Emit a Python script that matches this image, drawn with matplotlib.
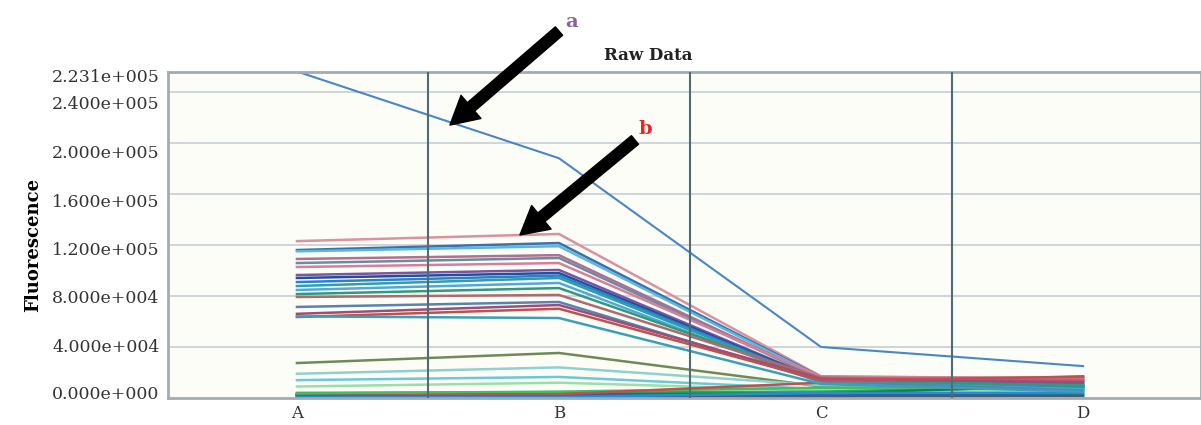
"""
Raw Data : courbes de fluorescence brutes (A, B, C, D)
"""
import matplotlib.pyplot as plt

# étapes
steps = ['A', 'B', 'C', 'D']

# courbe "a" (la plus haute)
curve_a = [256000, 188000, 40000, 25000]

# groupe "b" : valeurs en A, B, C, D
cluster = [
    [123000, 128600, 17000, 15000],
    [116000, 121500, 16500, 14000],
    [115000, 119000, 16000, 13000],
    [109000, 112000, 15500, 16000],
    [105800, 109800, 15000, 12000],
    [102700, 105800, 16800, 15500],
    [96400, 100400, 14000, 11000],
    [94100, 98000, 13500, 9000],
    [90900, 96000, 13000, 8000],
    [87800, 94100, 12500, 10000],
    [84700, 90200, 12000, 7000],
    [81500, 86200, 14500, 9500],
    [79200, 80800, 16000, 13500],
    [71400, 75300, 13000, 6000],
    [66000, 72900, 15000, 12500],
    [63500, 70000, 14000, 16500],
    [64000, 62700, 11000, 5000],
]
cluster_colors = ['#d9929e', '#3a6fb0', '#5ab8d8', '#b0708f', '#6f8aa0',
                  '#d77f9a', '#7a55a0', '#1f4f9e', '#2f7fc8', '#2a9fb0',
                  '#4fa8dc', '#2f9a80', '#b06a6a', '#5a82b0', '#9a4f7a',
                  '#c0504d', '#3aa0b8']

# courbes basses
low = [
    [27400, 35300, 9000, 7000],
    [19000, 24000, 10000, 8000],
    [14000, 16500, 7000, 6000],
    [9000, 12000, 6000, 5000],
    [4000, 4500, 5000, 9000],
    [2500, 3000, 3500, 10000],
    [2000, 2500, 2000, 3000],
    [3000, 1500, 1000, 2000],
    [3500, 5000, 8000, 8500],
    [1500, 3000, 12000, 17000],
    [1000, 1000, 1500, 1500],
    [500, 800, 4000, 4000],
]
low_colors = ['#6f8a55', '#8fd0d0', '#6cc8d8', '#9adfa8', '#2fa84f',
              '#1f7a4f', '#2f5fa0', '#2f6f7a', '#3cc060', '#c0504d',
              '#4a5a70', '#1f8fd8']

# graduations de l'axe y (texte tel que sur l'image)
ytick_pos = [4700, 41500, 79200, 117600, 155200, 192900, 231300, 253200]
ytick_txt = ['0.000e+000', '4.000e+004', '8.000e+004', '1.200e+005',
             '1.600e+005', '2.000e+005', '2.400e+005', '2.231e+005']
grid_y = [40000, 80000, 120000, 160000, 200000, 240000]
grid_x = [0.5, 1.5, 2.5]

fig = plt.figure(figsize=(12.01, 4.25), dpi=100)
ax = fig.add_axes([168 / 1201, 1 - 398 / 425, 1 - 168 / 1201, 326 / 425])
ax.set_facecolor('#fdfdf8')

x = list(range(len(steps)))
for y in grid_y:
    ax.axhline(y, color='#c5cfd4', lw=1.2, zorder=1)
for gx in grid_x:
    ax.axvline(gx, color='#4d6c73', lw=1.5, zorder=3)

for vals, c in zip(low, low_colors):
    ax.plot(x, vals, color=c, lw=1.8, zorder=2)
for vals, c in zip(cluster, cluster_colors):
    ax.plot(x, vals, color=c, lw=1.8, zorder=2)
ax.plot(x, curve_a, color='#4a86c5', lw=1.5, zorder=2)

ax.set_xlim(-0.492, 3.45)
ax.set_ylim(0, 255600)
ax.set_xticks(x)
ax.set_xticklabels(steps, family='DejaVu Serif', fontsize=12, color='#333333')
ax.set_yticks(ytick_pos)
ax.set_yticklabels(ytick_txt, family='DejaVu Serif', fontsize=12.5, color='#333333')
ax.tick_params(axis='y', length=0, pad=6)
ax.tick_params(axis='x', length=0, pad=5)
for s in ax.spines.values():
    s.set_color('#a3abb3')
    s.set_linewidth(2)

ax.set_ylabel('Fluorescence', family='DejaVu Serif', fontweight='bold',
              fontsize=13, labelpad=13)
ax.yaxis.set_label_coords(-0.122, 0.47)
fig.text(648 / 1201, 1 - 55 / 425, 'Raw Data', family='DejaVu Serif',
         fontweight='bold', fontsize=12, ha='center', va='center', color='#222222')

# flèches a et b
arrow = dict(arrowstyle='simple, head_width=1.1, head_length=1.0, tail_width=0.4',
             color='black', mutation_scale=20, shrinkA=0, shrinkB=0)
ax.annotate('', xy=(0.584, 214000), xytext=(1.0, 287700),
            arrowprops=arrow, annotation_clip=False, zorder=5)
ax.annotate('', xy=(0.851, 127800), xytext=(1.29, 202300),
            arrowprops=arrow, annotation_clip=False, zorder=5)
ax.text(1.05, 295000, 'a', color='#8e5ea2', family='DejaVu Serif',
        fontweight='bold', fontsize=14, ha='center', va='center', clip_on=False)
ax.text(1.33, 211000, 'b', color='#e8262a', family='DejaVu Serif',
        fontweight='bold', fontsize=14, ha='center', va='center', clip_on=False)

fig.savefig('out.png', dpi=100)
